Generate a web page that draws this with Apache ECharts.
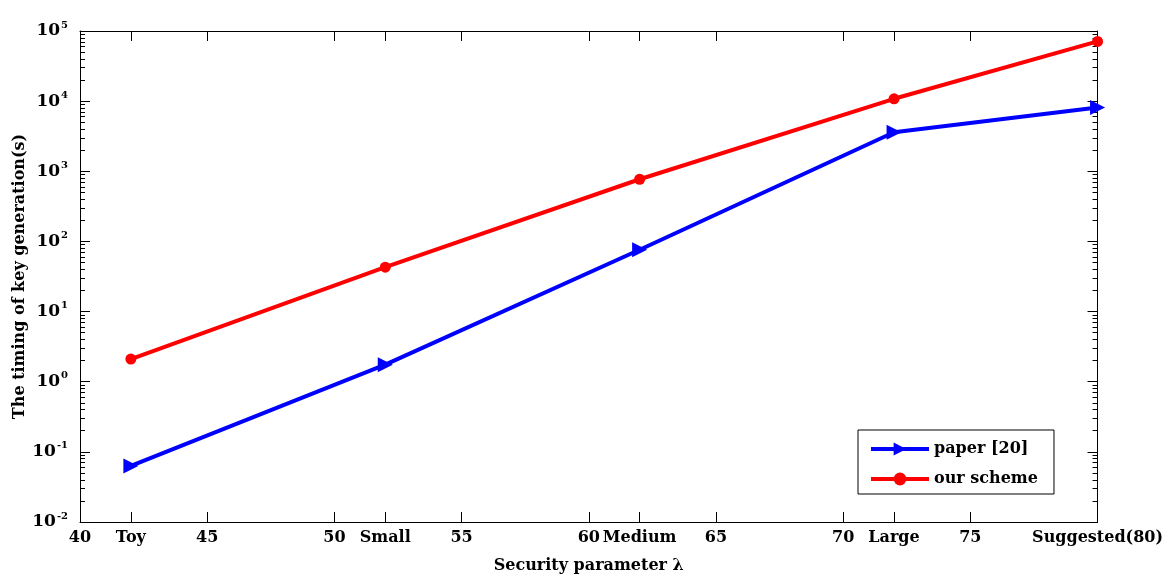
<!DOCTYPE html>
<html><head><meta charset="utf-8">
<script src="https://cdn.jsdelivr.net/npm/echarts@6/dist/echarts.min.js"></script>
<style>html,body{margin:0;padding:0;background:#fff}#c{width:1166px;height:579px}</style>
</head><body><div id="c"></div>
<script>
// ---- data ----
const xTickValues = [40, 42, 45, 50, 52, 55, 60, 62, 65, 70, 72, 75, 80];
const xTickLabels = ['40', 'Toy', '45', '50', 'Small', '55', '60', 'Medium', '65', '70', 'Large', '75', 'Suggested(80)'];
const levelLambda = [42, 52, 62, 72, 80];
const paperValues = [0.063, 1.75, 76, 3600, 8100];
const oursValues = [2.1, 43, 770, 10800, 71000];
const seriesNames = ['paper [20]', 'our scheme'];
const yDecades = [-2, -1, 0, 1, 2, 3, 4, 5];
const minorMultipliers = [2, 3, 4, 5, 6, 7, 8, 9];

const FONT = 'DejaVu Serif';
const minorTicks = [];
yDecades.slice(0, -1).forEach(d => minorMultipliers.forEach(m => minorTicks.push(d + Math.log10(m))));

const baseText = { fontFamily: FONT, fontWeight: 'bold', color: '#000' };
const axisLine = { show: true, onZero: false, lineStyle: { color: '#000', width: 1 } };
const tickStyle = { color: '#000', width: 1 };

const chart = echarts.init(document.getElementById('c'), null, { renderer: 'canvas' });
chart.setOption({
  animation: false,
  backgroundColor: '#fff',
  grid: { left: 80, right: 68, top: 31, bottom: 55, containLabel: false },
  legend: {
    left: 858, top: 430, orient: 'vertical',
    backgroundColor: '#fff', borderColor: '#000', borderWidth: 1,
    padding: [11, 16, 7, 11], itemGap: 14, itemWidth: 58, itemHeight: 16,
    lineStyle: { width: 4 },
    textStyle: Object.assign({ fontSize: 16 }, baseText),
    data: seriesNames
  },
  xAxis: [
    {
      type: 'value', min: 40, max: 80, position: 'bottom',
      axisLine: axisLine,
      axisTick: { show: true, inside: true, length: 10, customValues: xTickValues, lineStyle: tickStyle },
      axisLabel: Object.assign({
        customValues: xTickValues, fontSize: 16, margin: 8,
        formatter: v => xTickLabels[xTickValues.indexOf(v)]
      }, baseText),
      splitLine: { show: false },
      name: 'Security parameter λ', nameLocation: 'middle', nameGap: 36,
      nameTextStyle: Object.assign({ fontSize: 16 }, baseText)
    },
    {
      type: 'value', min: 40, max: 80, position: 'top',
      axisLine: axisLine,
      axisTick: { show: true, inside: true, length: 10, customValues: xTickValues, lineStyle: tickStyle },
      axisLabel: { show: false }, splitLine: { show: false }
    }
  ],
  yAxis: [
    {
      type: 'log', logBase: 10, min: 0.01, max: 100000, position: 'left',
      axisLine: axisLine,
      axisTick: { show: true, inside: true, length: 10, lineStyle: tickStyle },
      axisLabel: {
        margin: 12,
        formatter: v => '{b|10}{s|' + Math.round(Math.log10(v)) + '}',
        rich: {
          b: Object.assign({ fontSize: 17 }, baseText),
          s: Object.assign({ fontSize: 10, padding: [0, 0, 12, 1] }, baseText)
        }
      },
      splitLine: { show: false },
      name: 'The timing of key generation(s)', nameLocation: 'middle', nameGap: 52,
      nameMoveOverlap: false,
      nameTextStyle: Object.assign({ fontSize: 16 }, baseText)
    },
    {
      type: 'log', logBase: 10, min: 0.01, max: 100000, position: 'right',
      axisLine: axisLine,
      axisTick: { show: true, inside: true, length: 10, lineStyle: tickStyle },
      axisLabel: { show: false }, splitLine: { show: false }
    },
    {
      type: 'value', min: -2, max: 5, position: 'left',
      axisLine: { show: false },
      axisTick: { show: true, inside: true, length: 5, customValues: minorTicks, lineStyle: tickStyle },
      axisLabel: { show: false }, splitLine: { show: false }
    },
    {
      type: 'value', min: -2, max: 5, position: 'right',
      axisLine: { show: false },
      axisTick: { show: true, inside: true, length: 5, customValues: minorTicks, lineStyle: tickStyle },
      axisLabel: { show: false }, splitLine: { show: false }
    }
  ],
  series: [
    {
      name: seriesNames[0], type: 'line', xAxisIndex: 0, yAxisIndex: 0,
      data: levelLambda.map((x, i) => [x, paperValues[i]]),
      symbol: 'triangle', symbolRotate: -90, symbolSize: 15,
      lineStyle: { color: '#0000ff', width: 4 },
      itemStyle: { color: '#0000ff' }
    },
    {
      name: seriesNames[1], type: 'line', xAxisIndex: 0, yAxisIndex: 0,
      data: levelLambda.map((x, i) => [x, oursValues[i]]),
      symbol: 'circle', symbolSize: 11,
      lineStyle: { color: '#ff0000', width: 4 },
      itemStyle: { color: '#ff0000' }
    }
  ]
});
</script></body></html>
